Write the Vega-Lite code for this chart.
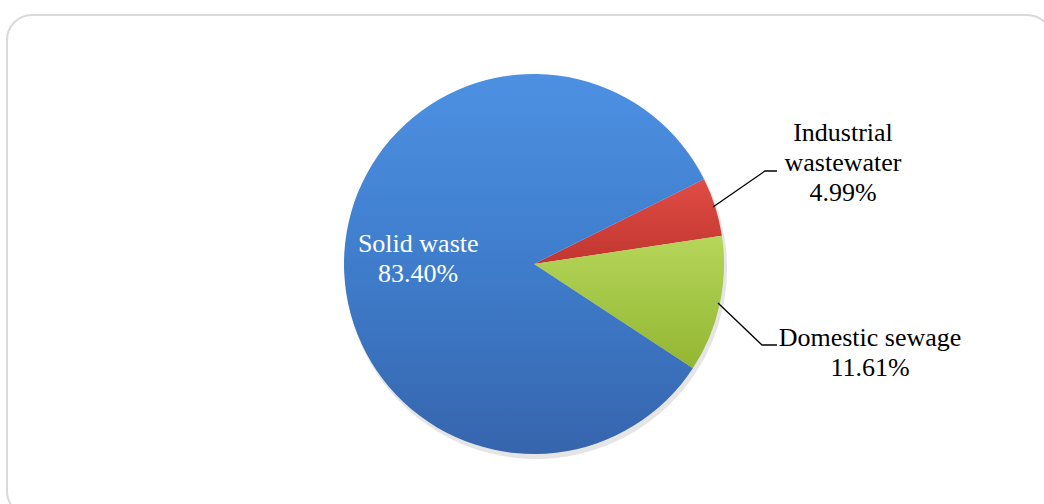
{
  "$schema": "https://vega.github.io/schema/vega-lite/v6.json",
  "width": 1044,
  "height": 504,
  "padding": 0,
  "autosize": {"type": "none"},
  "background": "white",
  "config": {"view": {"stroke": null}, "font": "Liberation Serif"},
  "datasets": {
    "slices": [
      {"cat": "Industrial wastewater", "pct": 4.99, "ord": 1, "label": "Industrial\nwastewater\n4.99%"},
      {"cat": "Domestic sewage", "pct": 11.61, "ord": 2, "label": "Domestic sewage\n11.61%"},
      {"cat": "Solid waste", "pct": 83.40, "ord": 3, "label": "Solid waste\n83.40%"}
    ],
    "leaders": [
      {"id": "ind", "seq": 1, "x": 179, "y": 57},
      {"id": "ind", "seq": 2, "x": 231, "y": 93},
      {"id": "ind", "seq": 3, "x": 243, "y": 93},
      {"id": "dom", "seq": 1, "x": 184, "y": -39},
      {"id": "dom", "seq": 2, "x": 228, "y": -81},
      {"id": "dom", "seq": 3, "x": 243, "y": -81}
    ],
    "frame": [{"x1": -527, "x2": 518, "y1": 249, "y2": -252}]
  },
  "layer": [
    {
      "data": {"name": "frame"},
      "mark": {"type": "rect", "fill": null, "stroke": "#d9d9d9", "strokeWidth": 2, "cornerRadius": 25},
      "encoding": {
        "x": {"field": "x1", "type": "quantitative", "scale": {"domain": [-534, 510], "nice": false, "zero": false}, "axis": null},
        "x2": {"field": "x2"},
        "y": {"field": "y1", "type": "quantitative", "scale": {"domain": [-240, 264], "nice": false, "zero": false}, "axis": null},
        "y2": {"field": "y2"}
      }
    },
    {
      "data": {"name": "slices"},
      "mark": {"type": "arc", "outerRadius": 191, "fill": "#000000", "opacity": 0.1},
      "encoding": {
        "theta": {"field": "pct", "type": "quantitative", "stack": true, "scale": {"range": [1.1083, 7.3915]}},
        "order": {"field": "ord", "type": "quantitative"},
        "x": {"datum": 2, "type": "quantitative"},
        "y": {"datum": -4, "type": "quantitative"}
      }
    },
    {
      "data": {"name": "slices"},
      "mark": {"type": "arc", "outerRadius": 190},
      "encoding": {
        "theta": {"field": "pct", "type": "quantitative", "stack": true},
        "order": {"field": "ord", "type": "quantitative"},
        "x": {"datum": 0, "type": "quantitative"},
        "y": {"datum": 0, "type": "quantitative"},
        "fill": {
          "condition": [
            {"test": "datum.cat === 'Solid waste'", "value": {"gradient": "linear", "x1": 0, "y1": 0, "x2": 0, "y2": 1, "stops": [{"offset": 0, "color": "#4d90e2"}, {"offset": 0.5, "color": "#3f7dcc"}, {"offset": 1, "color": "#3665ad"}]}},
            {"test": "datum.cat === 'Industrial wastewater'", "value": {"gradient": "linear", "x1": 0, "y1": 0, "x2": 0, "y2": 1, "stops": [{"offset": 0, "color": "#df4c45"}, {"offset": 1, "color": "#c1362f"}]}}
          ],
          "value": {"gradient": "linear", "x1": 0, "y1": 0, "x2": 0, "y2": 1, "stops": [{"offset": 0, "color": "#b5d65a"}, {"offset": 1, "color": "#93b632"}]}
        }
      }
    },
    {
      "data": {"name": "leaders"},
      "mark": {"type": "line", "color": "#000000", "strokeWidth": 1.3},
      "encoding": {
        "x": {"field": "x", "type": "quantitative"},
        "y": {"field": "y", "type": "quantitative"},
        "detail": {"field": "id"},
        "order": {"field": "seq", "type": "quantitative"}
      }
    },
    {
      "data": {"name": "slices"},
      "mark": {"type": "text", "radius": 116, "fontSize": 26, "lineHeight": 30, "lineBreak": "\n", "color": "white", "align": "center", "baseline": "middle", "dy": -13},
      "encoding": {
        "theta": {"field": "pct", "type": "quantitative", "stack": true},
        "order": {"field": "ord", "type": "quantitative"},
        "x": {"datum": 0, "type": "quantitative"},
        "y": {"datum": 0, "type": "quantitative"},
        "text": {"condition": {"test": "datum.cat === 'Solid waste'", "field": "label"}, "value": ""}
      }
    },
    {
      "data": {"name": "slices"},
      "mark": {"type": "text", "radius": 324, "fontSize": 26, "lineHeight": 30, "lineBreak": "\n", "color": "black", "align": "center", "baseline": "middle", "dy": -33},
      "encoding": {
        "theta": {"field": "pct", "type": "quantitative", "stack": true},
        "order": {"field": "ord", "type": "quantitative"},
        "x": {"datum": 0, "type": "quantitative"},
        "y": {"datum": 0, "type": "quantitative"},
        "text": {"condition": {"test": "datum.cat === 'Industrial wastewater'", "field": "label"}, "value": ""}
      }
    },
    {
      "data": {"name": "slices"},
      "mark": {"type": "text", "radius": 344, "fontSize": 26, "lineHeight": 30, "lineBreak": "\n", "color": "black", "align": "center", "baseline": "middle", "dy": 0},
      "encoding": {
        "theta": {"field": "pct", "type": "quantitative", "stack": true},
        "order": {"field": "ord", "type": "quantitative"},
        "x": {"datum": 0, "type": "quantitative"},
        "y": {"datum": 0, "type": "quantitative"},
        "text": {"condition": {"test": "datum.cat === 'Domestic sewage'", "field": "label"}, "value": ""}
      }
    }
  ]
}
